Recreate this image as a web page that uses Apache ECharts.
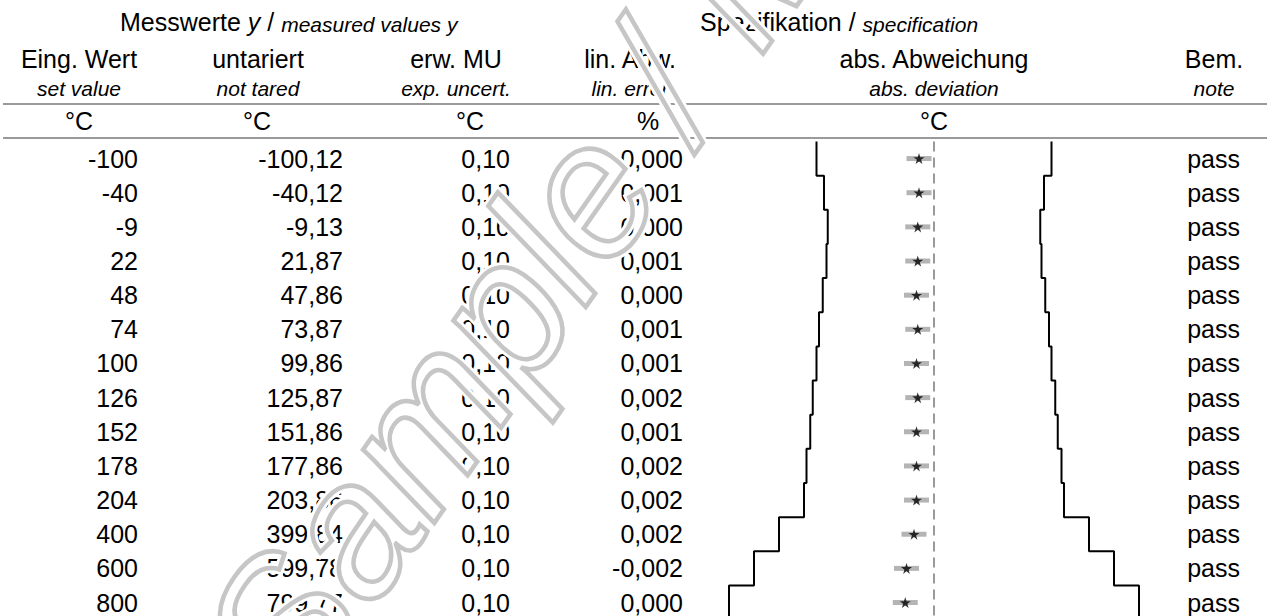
<!DOCTYPE html>
<html>
<head>
<meta charset="utf-8">
<title>Kalibrierergebnisse</title>
<script src="https://cdn.jsdelivr.net/npm/echarts@6/dist/echarts.min.js"></script>
<style>
  html, body { margin: 0; padding: 0; background: #fff; }
  #chart { width: 1267px; height: 616px; }
</style>
</head>
<body>
<div id="chart"></div>
<script>
// Messwerte / measured values
var setValues = [-100, -40, -9, 22, 48, 74, 100, 126, 152, 178, 204, 400, 600, 800];
var measuredValues = [-100.12, -40.12, -9.13, 21.87, 47.86, 73.87, 99.86, 125.87, 151.86, 177.86, 203.86, 399.84, 599.78, 799.77];
var expUncert = [0.10, 0.10, 0.10, 0.10, 0.10, 0.10, 0.10, 0.10, 0.10, 0.10, 0.10, 0.10, 0.10, 0.10];
var linError = [0.000, 0.001, 0.000, 0.001, 0.000, 0.001, 0.001, 0.002, 0.001, 0.002, 0.002, 0.002, -0.002, 0.000];
var absDeviation = [-0.12, -0.12, -0.13, -0.13, -0.14, -0.13, -0.14, -0.13, -0.14, -0.14, -0.14, -0.16, -0.22, -0.23];
// Spezifikation / specification (tolerance +/-)
var tolerance = [0.94, 0.88, 0.85, 0.86, 0.89, 0.92, 0.94, 0.97, 0.99, 1.02, 1.04, 1.24, 1.44, 1.64];
var notes = ['pass', 'pass', 'pass', 'pass', 'pass', 'pass', 'pass', 'pass', 'pass', 'pass', 'pass', 'pass', 'pass', 'pass'];

var FONT = '"Liberation Sans", Arial, sans-serif';
var rowTop = 141.5;
var rowH = 34.15;

function fmt(v, d) {
  return v.toFixed(d).replace('.', ',');
}

function txt(x, y, text, size, align, italic) {
  return {
    type: 'text',
    x: x,
    y: y,
    silent: true,
    style: {
      text: text,
      font: (italic ? 'italic ' : '') + size + 'px ' + FONT,
      fill: '#000',
      align: align || 'center',
      verticalAlign: 'middle'
    }
  };
}

function hline(y) {
  return {
    type: 'line',
    silent: true,
    shape: { x1: 3, y1: y, x2: 1267, y2: y },
    style: { stroke: '#9a9a9a', lineWidth: 2 }
  };
}

// step line for the tolerance limits, one vertical piece per row
function stepData(sign) {
  var pts = [];
  tolerance.forEach(function (t, i) {
    pts.push([sign * t, i]);
    pts.push([sign * t, i + 1]);
  });
  return pts;
}

function titleRich(x, text) {
  return {
    type: 'text', x: x, y: 22, silent: true,
    style: {
      text: text,
      align: 'left', verticalAlign: 'middle',
      rich: {
        a: { font: '25px ' + FONT, fill: '#000', verticalAlign: 'bottom' },
        b: { font: 'italic 25px ' + FONT, fill: '#000', verticalAlign: 'bottom' },
        c: { font: 'italic 21px ' + FONT, fill: '#000', verticalAlign: 'bottom' }
      }
    }
  };
}

var graphics = [];

// title row
graphics.push(titleRich(120, '{a|Messwerte }{b|y}{a| / }{c|measured values y}'));
graphics.push(titleRich(700, '{a|Spezifikation / }{c|specification}'));

// column headers
var headX = [79, 258, 456, 630, 934, 1214];
var headDe = ['Eing. Wert', 'untariert', 'erw. MU', 'lin. Abw.', 'abs. Abweichung', 'Bem.'];
var headEn = ['set value', 'not tared', 'exp. uncert.', 'lin. error', 'abs. deviation', 'note'];
var unitX = [79, 257, 470, 648, 934];
var units = ['°C', '°C', '°C', '%', '°C'];

headDe.forEach(function (h, i) { graphics.push(txt(headX[i], 59, h, 25, 'center', false)); });
headEn.forEach(function (h, i) { graphics.push(txt(headX[i], 88, h, 21, 'center', true)); });
units.forEach(function (u, i) { graphics.push(txt(unitX[i], 121, u, 25, 'center', false)); });
graphics.push(hline(104));
graphics.push(hline(138));

// table body
setValues.forEach(function (v, i) {
  var y = rowTop + rowH * (i + 0.5);
  graphics.push(txt(138, y, String(v), 25, 'right'));
  graphics.push(txt(343, y, fmt(measuredValues[i], 2), 25, 'right'));
  graphics.push(txt(510, y, fmt(expUncert[i], 2), 25, 'right'));
  graphics.push(txt(683, y, fmt(linError[i], 3), 25, 'right'));
  graphics.push(txt(1240, y, notes[i], 25, 'right'));
});

// watermark (white halo + grey outline)
var wmText = 'Sample / Muster';
[{ stroke: '#fff', w: 10 }, { stroke: '#c6c6c6', w: 4.5 }].forEach(function (s) {
  graphics.push({
    type: 'text',
    x: 245, y: 678,
    rotation: 55 * Math.PI / 180,
    silent: true,
    z: 100,
    style: {
      text: wmText,
      font: 'italic 190px ' + FONT,
      fill: 'none',
      stroke: s.stroke,
      lineWidth: s.w,
      align: 'left',
      verticalAlign: 'middle'
    }
  });
});

var barData = absDeviation.map(function (d, i) {
  return [d - expUncert[i], d + expUncert[i], i + 0.5];
});
var starData = absDeviation.map(function (d, i) { return [d, i + 0.5]; });

var starPath = 'path://M10 0 L12.23 6.93 L19.51 6.91 L13.61 11.17 L15.88 18.09 L10 13.8 L4.12 18.09 L6.39 11.17 L0.49 6.91 L7.77 6.93 Z';

var chart = echarts.init(document.getElementById('chart'), null, { renderer: 'svg' });

var option = {
  animation: false,
  backgroundColor: '#fff',
  grid: {
    left: 715.25,
    top: rowTop,
    width: 437.5,
    height: rowH * 14,
    outerBoundsMode: 'none'
  },
  xAxis: {
    type: 'value',
    min: -1.75,
    max: 1.75,
    axisLine: { show: false },
    axisTick: { show: false },
    axisLabel: { show: false },
    splitLine: { show: false }
  },
  yAxis: {
    type: 'value',
    min: 0,
    max: 14,
    inverse: true,
    axisLine: { show: false },
    axisTick: { show: false },
    axisLabel: { show: false },
    splitLine: { show: false }
  },
  graphic: graphics,
  series: [
    {
      name: 'untere Grenze',
      type: 'line',
      data: stepData(-1),
      symbol: 'none',
      lineStyle: { color: '#000', width: 2 },
      markLine: {
        silent: true,
        symbol: 'none',
        label: { show: false },
        lineStyle: { color: '#999', width: 2, type: [10, 6] },
        data: [{ xAxis: 0 }]
      }
    },
    {
      name: 'obere Grenze',
      type: 'line',
      data: stepData(1),
      symbol: 'none',
      lineStyle: { color: '#000', width: 2 }
    },
    {
      name: 'MU',
      type: 'custom',
      data: barData,
      encode: { x: [0, 1], y: 2 },
      renderItem: function (params, api) {
        var a = api.coord([api.value(0), api.value(2)]);
        var b = api.coord([api.value(1), api.value(2)]);
        return {
          type: 'line',
          shape: { x1: a[0], y1: a[1], x2: b[0], y2: b[1] },
          style: { stroke: '#b4b4b4', lineWidth: 5 }
        };
      }
    },
    {
      name: 'Abweichung',
      type: 'scatter',
      data: starData,
      symbol: starPath,
      symbolSize: 11,
      itemStyle: { color: '#000' },
      z: 5
    }
  ]
};

chart.setOption(option);
</script>
</body>
</html>
